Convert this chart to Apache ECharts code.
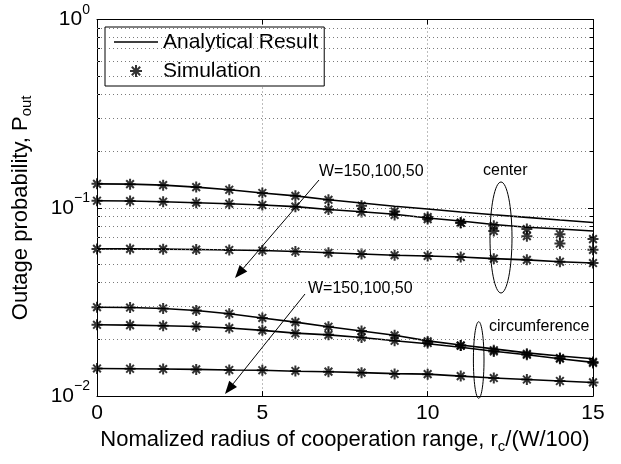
<!DOCTYPE html>
<html><head><meta charset="utf-8">
<script src="https://cdn.jsdelivr.net/npm/echarts@6/dist/echarts.min.js"></script>
<style>html,body{margin:0;padding:0;background:#fff}#c{width:621px;height:464px}</style>
</head><body><div id="c"></div>
<script>
const FONT = "'Liberation Sans', Arial, Helvetica, sans-serif";

// x positions (normalized radius)
const xValues = [0,1,2,3,4,5,6,7,8,9,10,11,12,13,14,15];

// Center case
const centerAnaW150 = [0.134,0.1335,0.1319,0.1288,0.1247,0.1199,0.1157,0.1103,0.106,0.102,0.0985,0.095,0.0919,0.089,0.0861,0.0835];
const centerAnaW100 = [0.109,0.1086,0.1077,0.1064,0.1051,0.1035,0.1014,0.0979,0.0952,0.0925,0.0882,0.0851,0.0815,0.0789,0.0771,0.0753];
const centerAnaW50  = [0.0605,0.0605,0.0603,0.06,0.0597,0.0593,0.0586,0.0577,0.0568,0.056,0.0555,0.0548,0.0537,0.0529,0.0517,0.0509];
const centerSimW150 = [0.134,0.1335,0.1319,0.1288,0.1247,0.1199,0.1157,0.1103,0.1026,0.0956,0.0893,0.0835,0.0802,0.0771,0.0724,0.0682];
const centerSimW100 = [0.109,0.1086,0.1077,0.1064,0.1051,0.1035,0.1014,0.0979,0.095,0.0917,0.0871,0.0831,0.0753,0.0707,0.0646,0.0598];
const centerSimW50  = [0.0605,0.0605,0.0603,0.06,0.0597,0.0593,0.0586,0.0577,0.0568,0.056,0.0555,0.0548,0.0537,0.0529,0.0517,0.0509];

// Circumference case
const circAnaW150 = [0.02965,0.02954,0.0292,0.02851,0.02737,0.026,0.0247,0.02335,0.02218,0.02104,0.01964,0.01867,0.01781,0.01697,0.01632,0.0158];
const circAnaW100 = [0.02391,0.02383,0.02362,0.02343,0.02298,0.02234,0.0216,0.02115,0.02048,0.01968,0.01895,0.01816,0.01732,0.01657,0.0158,0.0151];
const circAnaW50  = [0.01402,0.01397,0.01392,0.01386,0.01376,0.01372,0.01356,0.01348,0.01332,0.01316,0.01308,0.01277,0.01247,0.01225,0.01203,0.01182];
const circSimW150 = [0.02965,0.02954,0.0292,0.02851,0.02737,0.026,0.0247,0.02335,0.02218,0.02104,0.01952,0.01854,0.01753,0.01677,0.01593,0.01519];
const circSimW100 = [0.02391,0.02383,0.02362,0.02343,0.02298,0.02234,0.02156,0.02115,0.02048,0.01968,0.01913,0.01854,0.01726,0.01657,0.0158,0.01501];
const circSimW50  = [0.01402,0.01397,0.01392,0.01386,0.01376,0.01372,0.0136,0.01348,0.01332,0.0131,0.01308,0.01277,0.01247,0.01225,0.01203,0.01182];

// Axis / text labels
const xTickValues = [0,5,10,15];
const yMinorGrid = [0.02,0.03,0.04,0.05,0.06,0.07,0.08,0.09,0.2,0.3,0.4,0.5,0.6,0.7,0.8,0.9];
const legendNames = ['Analytical Result','Simulation'];
const annotationW = 'W=150,100,50';

const STAR = 'path://M5,0L5,10M0,5L10,5M1.5,1.5L8.5,8.5M8.5,1.5L1.5,8.5';
const pair = arr => xValues.map((x,i)=>[x, arr[i]]);

function lineSeries(arr){
  return {name:legendNames[0], type:'line', data:pair(arr), symbol:'none', showSymbol:false,
    lineStyle:{color:'#000', width:1.6}, itemStyle:{color:'#000'}, z:3, silent:true};
}
function simSeries(arr){
  return {name:legendNames[1], type:'scatter', data:pair(arr), symbol:STAR, symbolSize:11,
    itemStyle:{color:'rgba(0,0,0,0)', borderColor:'#000', borderWidth:2}, z:4, silent:true};
}

const gridStyle = {color:'#7a7a7a', width:1, type:[1,3]};
const gridSeries = {
  name:'grid', type:'line', data:[], silent:true, z:1,
  markLine:{silent:true, symbol:'none', label:{show:false}, animation:false,
    lineStyle:gridStyle,
    data: yMinorGrid.map(v=>({yAxis:v}))}
};

const chart = echarts.init(document.getElementById('c'));
const axisLineStyle = {color:'#000', width:1};
const supRich = {
  b:{fontSize:21, fontFamily:FONT, color:'#000', lineHeight:21, padding:[6,0,6,0]},
  s:{fontSize:14, fontFamily:FONT, color:'#000', lineHeight:14, padding:[0,0,19,0]}
};
const subRich = {
  a:{fontSize:22, fontFamily:FONT, color:'#000', lineHeight:22, padding:[0,0,8,0]},
  u:{fontSize:15, fontFamily:FONT, color:'#000', lineHeight:15, padding:[10,0,5,0]}
};

const option = {
  animation:false,
  backgroundColor:'#fff',
  grid:{left:97, right:28, top:19.5, bottom:59},
  legend:{
    data:[
      {name:legendNames[0], icon:'path://M0,0L44,0L44,1.6L0,1.6Z'},
      {name:legendNames[1]}
    ],
    orient:'vertical', left:105, top:27,
    backgroundColor:'#fff', borderColor:'#000', borderWidth:1,
    padding:[3,6,3,9], itemGap:5, itemWidth:44, itemHeight:12,
    textStyle:{fontSize:21, fontFamily:FONT, color:'#000', lineHeight:24},
    selectedMode:false
  },
  xAxis:[
    {type:'value', min:0, max:15, interval:5, position:'bottom',
     axisLine:{show:true, onZero:false, lineStyle:axisLineStyle},
     axisTick:{show:true, inside:true, length:5, lineStyle:axisLineStyle},
     axisLabel:{fontSize:21, fontFamily:FONT, color:'#000', margin:7},
     splitLine:{show:true, lineStyle:gridStyle},
     name:'{a|Nomalized radius of cooperation range, r}{u|c}{a|/(W/100)}',
     nameLocation:'middle', nameGap:21,
     nameTextStyle:{rich:subRich}},
    {type:'value', min:0, max:15, interval:5, position:'top',
     axisLine:{show:true, onZero:false, lineStyle:axisLineStyle},
     axisTick:{show:true, inside:true, length:5, lineStyle:axisLineStyle},
     axisLabel:{show:false}, splitLine:{show:false}}
  ],
  yAxis:[
    {type:'log', logBase:10, min:0.01, max:1, position:'left',
     axisLine:{show:true, onZero:false, lineStyle:axisLineStyle},
     axisTick:{show:true, inside:true, length:5, lineStyle:axisLineStyle},
     minorTick:{show:true, splitNumber:9, length:3, lineStyle:axisLineStyle},
     axisLabel:{margin:7, formatter:function(v){
        const e = Math.round(Math.log10(v));
        return '{b|10}{s|' + (e<0 ? '\u2212'+(-e) : e) + '}';
     }, rich:supRich},
     splitLine:{show:true, lineStyle:gridStyle},
     name:'{a|Outage probability, P}{u|out}', nameLocation:'middle', nameRotate:90, nameGap:51,
     nameTextStyle:{rich:subRich}},
    {type:'log', logBase:10, min:0.01, max:1, position:'right',
     axisLine:{show:true, onZero:false, lineStyle:axisLineStyle},
     axisTick:{show:true, inside:true, length:5, lineStyle:axisLineStyle},
     minorTick:{show:true, splitNumber:9, length:3, lineStyle:axisLineStyle},
     axisLabel:{show:false}, splitLine:{show:false}}
  ],
  series:[
    gridSeries,
    lineSeries(centerAnaW150), lineSeries(centerAnaW100), lineSeries(centerAnaW50),
    lineSeries(circAnaW150), lineSeries(circAnaW100), lineSeries(circAnaW50),
    simSeries(centerSimW150), simSeries(centerSimW100), simSeries(centerSimW50),
    simSeries(circSimW150), simSeries(circSimW100), simSeries(circSimW50)
  ]
};
chart.setOption(option);

function arrow(x1,y1,x2,y2){
  const ang = Math.atan2(y2-y1, x2-x1), L=13, W=5;
  const bx = x2 - L*Math.cos(ang), by = y2 - L*Math.sin(ang);
  const px = -Math.sin(ang)*W, py = Math.cos(ang)*W;
  return [
    {type:'line', shape:{x1:x1,y1:y1,x2:bx,y2:by}, style:{stroke:'#000', lineWidth:1}, silent:true, z:10},
    {type:'polygon', shape:{points:[[x2,y2],[bx+px,by+py],[bx-px,by-py]]}, style:{fill:'#000'}, silent:true, z:10}
  ];
}
const annoText = {fontSize:16, fontFamily:FONT, fill:'#000'};
chart.setOption({graphic:[
  {type:'text', left:319, top:164, style:Object.assign({text:annotationW}, annoText), z:10},
  ...arrow(319,180,235,278),
  {type:'text', left:308, top:281, style:Object.assign({text:annotationW}, annoText), z:10},
  ...arrow(305,294,225,394),
  {type:'text', left:483, top:163, style:Object.assign({text:'center'}, annoText), z:10},
  {type:'ellipse', shape:{cx:501, cy:237.5, rx:11, ry:55.5}, style:{fill:'none', stroke:'#000', lineWidth:1}, silent:true, z:10},
  {type:'text', left:489, top:319, style:Object.assign({text:'circumference'}, annoText), z:10},
  {type:'ellipse', shape:{cx:478.7, cy:360, rx:5.3, ry:38.3}, style:{fill:'none', stroke:'#000', lineWidth:1}, silent:true, z:10}
]});
</script></body></html>
